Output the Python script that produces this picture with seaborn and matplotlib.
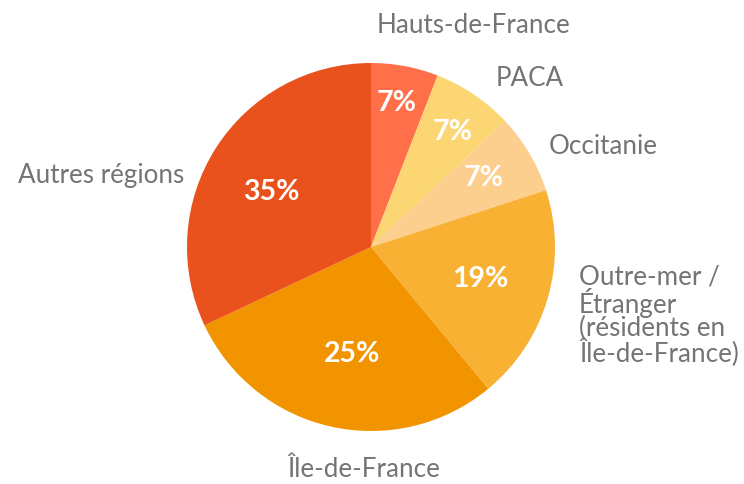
import seaborn as sns
import matplotlib.pyplot as plt

# data (slice sizes from the drawn wedges, labels as printed)
regions = ["Hauts-de-France", "PACA", "Occitanie",
           "Outre-mer /\nÉtranger\n(résidents en\nÎle-de-France)",
           "Île-de-France", "Autres régions"]
shares = [5.9, 7.1, 7.0, 19.0, 29.0, 32.0]
pct_labels = ["7%", "7%", "7%", "19%", "25%", "35%"]
colors = ["#FF704A", "#FCD672", "#FCCF8F", "#F8B133", "#F29300", "#E9511D"]

sns.set_theme(style="white")
plt.rcParams["font.family"] = ["Lato", "DejaVu Sans"]

W, H, R = 744, 485, 184
cx, cy = 371, 248

fig = plt.figure(figsize=(W / 100, H / 100), dpi=100)
ax = fig.add_axes([0, 0, 1, 1])


def px(x, y):
    # pixel position -> data units (radius = 1)
    return (x - cx) / R, (cy - y) / R


wedges, _ = ax.pie(shares, colors=colors, startangle=90, counterclock=False,
                   radius=1, wedgeprops=dict(linewidth=0))

# percent labels inside the wedges (pixel spots as in the original layout)
pct_spots = [(397, 103), (453, 132), (484, 178), (480, 279), (352, 354), (271, 192)]
for txt, (x, y) in zip(pct_labels, pct_spots):
    tx, ty = px(x, y)
    ax.text(tx, ty, txt, color="white", fontsize=20.5, fontweight="bold",
            ha="center", va="center")

# outer region labels
grey = "#747474"
spots = [(473, 25, "center", "center"), (530, 78, "center", "center"),
         (603, 147, "center", "center"), (579, 265, "left", "top"),
         (364, 470, "center", "center"), (184, 176, "right", "center")]
for name, (x, y, ha, va) in zip(regions, spots):
    tx, ty = px(x, y)
    ax.text(tx, ty, name, color=grey, fontsize=18.7, ha=ha, va=va,
            linespacing=0.91)

ax.set_xlim(-cx / R, (W - cx) / R)
ax.set_ylim(-(H - cy) / R, cy / R)
ax.set_aspect("equal")
ax.axis("off")

fig.savefig("out.png", dpi=100)
